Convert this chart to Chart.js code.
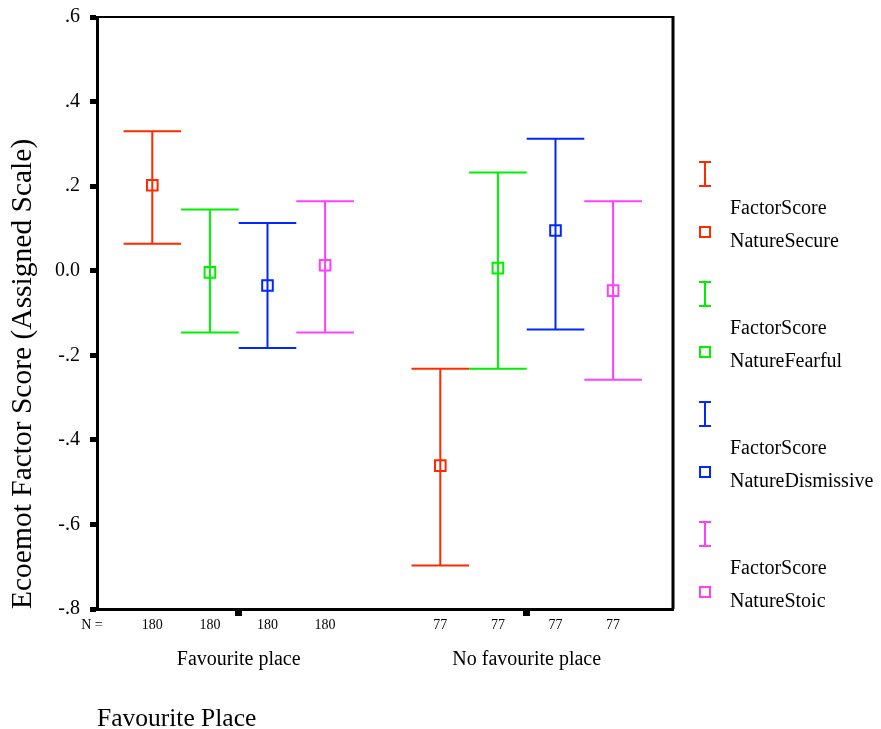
<!DOCTYPE html>
<html>
<head>
<meta charset="utf-8">
<script src="https://cdn.jsdelivr.net/npm/chart.js@4/dist/chart.umd.min.js"></script>
<style>
  body { margin: 0; background: #fff; }
  #wrap { width: 881px; height: 729px; }
</style>
</head>
<body>
<div id="wrap"><canvas id="errChart"></canvas></div>
<script>
// groups on the x axis and the sample size of each
var groups = ['Favourite place', 'No favourite place'];
var groupN = [180, 77];

var seriesNames = ['NatureSecure', 'NatureFearful', 'NatureDismissive', 'NatureStoic'];
var seriesColors = ['#ff2a00', '#00f000', '#0028ff', '#ff40ff'];

// mean and 95% CI per group
var secureMean = [0.202, -0.461];
var secureLow  = [0.064, -0.697];
var secureHigh = [0.330, -0.232];

var fearfulMean = [-0.004, 0.006];
var fearfulLow  = [-0.146, -0.232];
var fearfulHigh = [0.145, 0.232];

var dismissMean = [-0.035, 0.095];
var dismissLow  = [-0.183, -0.139];
var dismissHigh = [0.113, 0.312];

var stoicMean = [0.013, -0.047];
var stoicLow  = [-0.146, -0.258];
var stoicHigh = [0.164, 0.164];

var yTicks = [0.6, 0.4, 0.2, 0.0, -0.2, -0.4, -0.6, -0.8];

var means = [secureMean, fearfulMean, dismissMean, stoicMean];
var lows = [secureLow, fearfulLow, dismissLow, stoicLow];
var highs = [secureHigh, fearfulHigh, dismissHigh, stoicHigh];

function slot(i) { return (i - 1.5) * 0.2; }

var datasets = seriesNames.map(function (name, i) {
    return {
        label: 'FactorScore ' + name,
        data: groups.map(function (g, j) { return { x: j + slot(i), y: means[i][j] }; }),
        lows: lows[i],
        highs: highs[i],
        borderColor: seriesColors[i],
        backgroundColor: 'rgba(0,0,0,0)',
        pointStyle: 'rect',
        pointRadius: 7.5,
        borderWidth: 2,
        showLine: false
    };
});

// whiskers, drawn under the mean squares
var errorBars = {
    id: 'errorBars',
    beforeDatasetsDraw: function (chart) {
        var ctx = chart.ctx, xs = chart.scales.x, ys = chart.scales.y;
        ctx.save();
        ctx.lineWidth = 2;
        chart.data.datasets.forEach(function (ds, i) {
            ctx.strokeStyle = ds.borderColor;
            ds.data.forEach(function (p, j) {
                var x = xs.getPixelForValue(p.x);
                var half = xs.getPixelForValue(0.1) - xs.getPixelForValue(0);
                var yl = ys.getPixelForValue(ds.lows[j]);
                var yh = ys.getPixelForValue(ds.highs[j]);
                ctx.beginPath();
                ctx.moveTo(x, yh); ctx.lineTo(x, yl);
                ctx.moveTo(x - half, yh); ctx.lineTo(x + half, yh);
                ctx.moveTo(x - half, yl); ctx.lineTo(x + half, yl);
                ctx.stroke();
            });
        });
        ctx.restore();
    }
};

// frame, N = row and the legend at the right
var extras = {
    id: 'extras',
    afterDraw: function (chart) {
        var ctx = chart.ctx, a = chart.chartArea, xs = chart.scales.x;
        ctx.save();
        ctx.strokeStyle = '#000';
        ctx.lineWidth = 2;
        ctx.beginPath();
        ctx.moveTo(a.left, a.top); ctx.lineTo(a.right, a.top);
        ctx.stroke();
        ctx.lineWidth = 3;
        ctx.beginPath();
        ctx.moveTo(a.right, a.top - 1); ctx.lineTo(a.right, a.bottom);
        ctx.stroke();

        ctx.fillStyle = '#000';
        ctx.font = '14px "Liberation Serif"';
        ctx.textBaseline = 'middle';
        ctx.textAlign = 'center';
        ctx.fillText('N =', 92, 625);
        groups.forEach(function (g, j) {
            seriesNames.forEach(function (s, i) {
                ctx.fillText(String(groupN[j]), xs.getPixelForValue(j + slot(i)), 625);
            });
        });

        ctx.textAlign = 'left';
        ctx.font = '20px "Liberation Serif"';
        seriesNames.forEach(function (name, i) {
            var cy = 174 + 120 * i;
            ctx.strokeStyle = seriesColors[i];
            ctx.lineWidth = 2;
            ctx.beginPath();
            ctx.moveTo(705, cy - 12); ctx.lineTo(705, cy + 12);
            ctx.moveTo(699, cy - 12); ctx.lineTo(711, cy - 12);
            ctx.moveTo(699, cy + 12); ctx.lineTo(711, cy + 12);
            ctx.stroke();
            ctx.strokeRect(700, cy + 53, 10, 10);
            ctx.fillStyle = '#000';
            ctx.fillText('FactorScore', 730, cy + 35);
            ctx.fillText(name, 730, cy + 68);
        });
        ctx.restore();
    }
};

Chart.defaults.font.family = '"Liberation Serif", "Times New Roman", serif';
Chart.defaults.color = '#000';

new Chart(document.getElementById('errChart'), {
    type: 'scatter',
    data: { datasets: datasets },
    options: {
        responsive: true,
        maintainAspectRatio: false,
        animation: false,
        layout: { padding: { top: 17, right: 208, left: 0, bottom: 0 } },
        plugins: { legend: { display: false }, tooltip: { enabled: false } },
        scales: {
            x: {
                type: 'linear',
                min: -0.492,
                max: 1.508,
                afterBuildTicks: function (scale) {
                    scale.ticks = groups.map(function (g, j) { return { value: j }; });
                },
                afterFit: function (scale) {
                    scale.height = 120;
                    scale.paddingLeft = 0;
                    scale.paddingRight = 0;
                },
                ticks: {
                    autoSkip: false,
                    maxRotation: 0,
                    padding: 32,
                    font: { size: 20 },
                    callback: function (v) { return groups[Math.round(v)]; }
                },
                grid: { drawOnChartArea: false, tickLength: 7, tickWidth: 7, tickColor: '#000' },
                border: { display: true, width: 3, color: '#000' },
                title: {
                    display: true,
                    text: 'Favourite Place',
                    align: 'start',
                    font: { size: 25.5, lineHeight: 1 },
                    padding: { top: 0, bottom: -3 }
                }
            },
            y: {
                min: -0.8,
                max: 0.6,
                afterBuildTicks: function (scale) {
                    scale.ticks = yTicks.map(function (v) { return { value: v }; });
                },
                afterFit: function (scale) {
                    scale.width = 97;
                    scale.paddingTop = 0;
                    scale.paddingBottom = 0;
                },
                ticks: {
                    padding: 10,
                    font: { size: 20 },
                    callback: function (v) {
                        var r = Math.round(v * 10) / 10;
                        if (r === 0) return '0.0';
                        return r.toFixed(1).replace('0.', '.');
                    }
                },
                grid: { drawOnChartArea: false, tickLength: 7, tickWidth: 5, tickColor: '#000' },
                border: { display: true, width: 3, color: '#000' },
                title: {
                    display: true,
                    text: 'Ecoemot Factor Score (Assigned Scale)',
                    align: 'start',
                    font: { size: 29.5, lineHeight: 1 },
                    padding: { top: 8, bottom: 0 }
                }
            }
        }
    },
    plugins: [errorBars, extras]
});
</script>
</body>
</html>
